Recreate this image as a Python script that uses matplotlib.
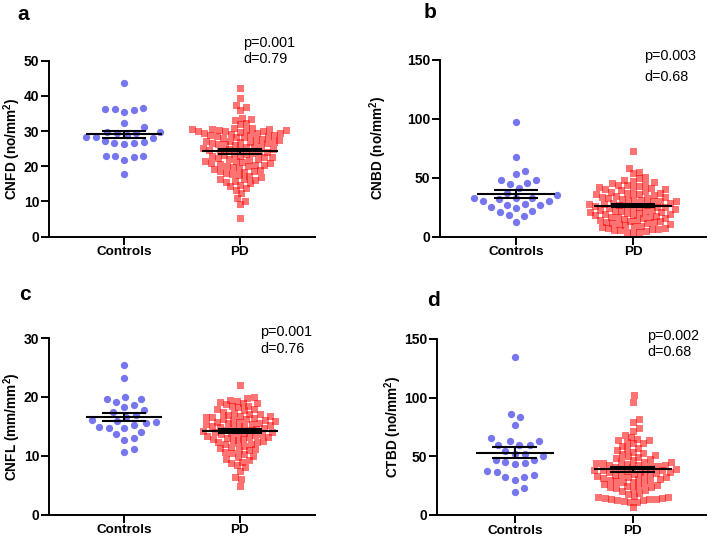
import numpy as np
import matplotlib
matplotlib.use('Agg')
import matplotlib.pyplot as plt

plt.rcParams['font.family'] = ['Liberation Sans', 'DejaVu Sans']
plt.rcParams['mathtext.fontset'] = 'custom'
plt.rcParams['mathtext.bf'] = 'Liberation Sans:bold'
plt.rcParams['mathtext.rm'] = 'Liberation Sans:bold'

W, H = 708, 539

groups = ['Controls', 'PD']

# values
cnfd_ctrl = [43.8, 36.5, 35.5, 36.2, 36.4, 35.9, 32.4, 31.3, 29.6, 29.8, 29.5, 29.7, 28.2,
             28.2, 28.0, 28.9, 26.6, 27.1, 26.2, 27.0, 26.5, 23.0, 22.5, 23.0, 21.8, 23.0, 17.7]
cnfd_pd = [42.3, 39.5, 37.5, 36.8, 36.0, 33.8, 33.5, 33.2, 32.3, 32.0,
           30.8, 30.6, 30.5, 30.4, 30.2, 30.1, 30.0, 30.9, 30.3, 30.7,
           29.8, 29.5, 29.2, 29.9, 29.0, 29.4, 29.6,
           28.2, 28.5, 28.8, 28.0, 28.6, 28.3, 28.9,
           27.1, 27.5, 27.8, 27.3, 27.6, 27.0,
           26.2, 26.5, 26.8, 26.0, 26.4, 26.7, 26.9,
           25.2, 25.5, 25.8, 25.0, 25.6,
           24.1, 24.4, 24.8, 24.6, 24.2, 24.9,
           23.2, 23.5, 23.8, 23.0, 23.6,
           22.1, 22.4, 22.7, 22.0, 22.5, 22.9,
           21.2, 21.5, 21.8, 21.0, 21.6,
           20.1, 20.4, 20.7, 20.0, 20.5, 20.9,
           19.2, 19.5, 19.8, 19.0,
           18.1, 18.4, 18.8, 18.6,
           17.2, 17.5, 17.8,
           16.1, 16.5, 16.9, 16.3,
           15.2, 15.6, 15.9,
           14.3, 14.8, 13.2, 13.7, 12.4, 11.0, 10.2, 9.3, 5.3]

cnbd_ctrl = [97.6, 67.4, 56, 53, 48, 48, 46, 45, 41, 37, 35, 33, 33, 33, 32, 30, 30, 28,
             27, 27, 25, 24, 22, 21, 18, 17.5, 12.5]
cnbd_pd = [72.7, 58.0, 55.2, 53.8,
           51.0, 49.5, 48.2, 47.0, 46.3, 45.5, 45.0,
           44.2, 43.5, 42.8, 42.0, 41.5, 41.0, 40.5, 40.2,
           39.5, 38.8, 38.0, 37.5, 37.0, 36.5, 36.0, 35.5, 35.2,
           34.6, 34.0, 33.5, 33.0, 32.5, 32.0, 31.5, 31.0, 30.5, 30.2, 30.0,
           29.5, 29.0, 28.5, 28.0, 27.6, 27.2, 26.8, 26.4, 26.0, 25.6, 25.2, 25.0,
           24.6, 24.0, 23.5, 23.0, 22.6, 22.2, 21.8, 21.4, 21.0, 20.6, 20.2, 20.0,
           19.5, 19.0, 18.4, 18.0, 17.5, 17.0, 16.8, 16.5, 16.0, 15.6, 15.2,
           14.6, 14.0, 13.4, 13.0, 12.8, 12.2, 11.6, 11.3, 11.0, 10.4,
           9.6, 9.3, 9.0, 8.4, 7.8, 7.2, 6.6, 6.3, 6.0, 5.5,
           4.8, 4.2, 4.0, 3.5]

cnfl_ctrl = [25.4, 23.2, 19.7, 19.7, 20.0, 19.2, 18.6, 18.3, 17.8, 17.4, 16.6, 16.9, 15.9,
             16.1, 15.5, 15.7, 15.2, 14.7, 14.7, 14.9, 14.1, 13.6, 13.0, 12.7, 11.2, 10.7]
cnfl_pd = [22.0, 20.0,
           19.8, 19.5, 19.3, 19.1, 19.0,
           18.9, 18.7, 18.5, 18.4, 18.2, 18.0,
           17.9, 17.7, 17.5, 17.3, 17.1, 17.0,
           16.9, 16.8, 16.7, 16.5, 16.4, 16.3, 16.2, 16.0, 16.6, 16.1,
           15.9, 15.8, 15.7, 15.6, 15.5, 15.4, 15.3, 15.2, 15.1, 15.0,
           14.9, 14.8, 14.7, 14.6, 14.5, 14.4, 14.3, 14.2, 14.1, 14.0,
           13.9, 13.8, 13.7, 13.6, 13.5, 13.4, 13.3, 13.2, 13.1, 13.0,
           12.9, 12.8, 12.7, 12.5, 12.4, 12.3, 12.1, 12.0,
           11.9, 11.7, 11.5, 11.3, 11.1, 11.0,
           10.9, 10.6, 10.4, 10.2, 10.0,
           9.8, 9.5, 9.2, 9.0,
           8.8, 8.4, 8.0, 7.4, 6.3, 6.0, 4.9]

ctbd_ctrl = [135, 86, 83.3, 76.3, 65.6, 62.8, 62.8, 60, 60, 59.4, 54.3, 52.4, 52.4, 50,
             47.3, 47, 45, 44, 43.6, 37.4, 36.6, 34, 32.4, 32.4, 30, 23.4, 19.7]
ctbd_pd = [102, 96.5, 82.0, 79.5, 74.0, 72.0,
           68.0, 66.5, 65.0, 64.0, 63.5, 62.5, 61.5, 61.0,
           59.0, 57.5, 56.0, 55.0, 54.0, 53.0, 52.0, 51.0, 50.5,
           49.5, 48.5, 47.5, 46.5, 46.0, 45.5,
           44.5, 44.0, 43.5, 43.0, 42.5, 42.0, 41.5, 41.0, 40.5, 40.0, 44.8, 42.8,
           39.5, 39.0, 38.5, 38.0, 37.5, 37.0, 36.5, 36.0, 35.5, 35.0, 38.2, 36.8,
           34.5, 34.0, 33.5, 33.0, 32.5, 32.0, 31.5, 31.0, 30.5, 30.0,
           29.5, 29.0, 28.0, 27.0, 26.0, 25.5, 25.0, 28.5,
           24.5, 24.0, 23.0, 22.0, 21.0, 20.5, 23.5,
           19.0, 17.5, 16.0, 15.5,
           15.0, 14.5, 14.0, 13.5, 13.0, 12.5, 12.0, 11.5, 11.0, 14.8, 13.8,
           6.5]

ylabels = [r'CNFD (no/mm$\mathbf{^2}$)', r'CNBD (no/mm$\mathbf{^2}$)',
           r'CNFL (mm/mm$\mathbf{^2}$)', r'CTBD (no/mm$\mathbf{^2}$)']
letters = ['a', 'b', 'c', 'd']
ymaxes = [50, 150, 30, 150]
ysteps = [10, 50, 10, 50]
pvals = ['p=0.001', 'p=0.003', 'p=0.001', 'p=0.002']
dvals = ['d=0.79', 'd=0.68', 'd=0.76', 'd=0.68']
ctrl_data = [cnfd_ctrl, cnbd_ctrl, cnfl_ctrl, ctbd_ctrl]
pd_data = [cnfd_pd, cnbd_pd, cnfl_pd, ctbd_pd]

# axes boxes in pixels: left, top, right, bottom
boxes = [(49, 60.7, 315, 236.7), (440, 60, 706, 236.7),
         (49, 338, 315, 514.5), (437, 339, 706, 515)]
xlims = [(-0.65, 1.65), (-0.65, 1.624), (-0.65, 1.65), (-0.66, 1.62)]
ylab_x = [23, 389, 23, 404]   # right edge of the rotated y label
letter_pos = [(23, 15), (430, 13), (25, 295), (433, 301)]
ptext_pos = [(243, 43, 59), (644, 56, 77), (260, 332, 349), (647, 336, 352)]


def swarm(vals, dx, dy, ppu_y):
    vals = np.asarray(vals, dtype=float)
    xs = np.zeros(len(vals))
    placed = []
    for i in np.argsort(vals):
        y = vals[i] * ppu_y
        near = [(px, py) for px, py in placed if abs(py - y) < dy]

        def need(py):
            return dx * np.sqrt(max(0.0, 1 - ((py - y) / dy) ** 2))

        cands = [0.0]
        for px, py in near:
            cands += [px + need(py), px - need(py)]
        cands.sort(key=lambda c: (round(abs(c), 6), -c))
        for c in cands:
            if all(abs(c - px) >= need(py) - 1e-6 for px, py in near):
                break
        xs[i] = c
        placed.append((c, y))
    return xs


fig = plt.figure(figsize=(W / 100, H / 100), dpi=100)

for k in range(4):
    l, t, r, b = boxes[k]
    ax = fig.add_axes([l / W, 1 - b / H, (r - l) / W, (b - t) / H])
    x0, x1 = xlims[k]
    ymax = ymaxes[k]
    ax.set_xlim(x0, x1)
    ax.set_ylim(0, ymax)
    ppu_x = (r - l) / (x1 - x0)
    ppu_y = (b - t) / ymax

    for j, (vals, marker, col, alpha, ms, dx, dy) in enumerate([
            (ctrl_data[k], 'o', '#7676ee', 1.0, 7.3, 9.8, 9.8),
            (pd_data[k], 's', '#ff0000', 0.55, 7.0, 6.4, 6.6)]):
        offs = swarm(vals, dx, dy, ppu_y)
        ax.scatter(j + offs / ppu_x, vals, s=(ms * 0.72) ** 2, marker=marker,
                   color=col, alpha=alpha, linewidths=0, clip_on=False, zorder=2)
        m = np.mean(vals)
        se = np.std(vals, ddof=1) / np.sqrt(len(vals))
        ax.hlines(m, j - 0.33, j + 0.33, color='black', lw=1.5, zorder=3)
        ax.hlines([m - se, m + se], j - 0.19, j + 0.19, color='black', lw=1.5, zorder=3)
        ax.vlines(j, m - se, m + se, color='black', lw=1.5, zorder=3)

    ax.set_xticks([0, 1])
    ax.set_xticklabels(groups, fontweight='bold', fontsize=9.7)
    ax.set_yticks(np.arange(0, ymax + 1, ysteps[k]))
    for lab in ax.get_yticklabels():
        lab.set_fontweight('bold')
        lab.set_fontsize(10)
    for s in ['top', 'right']:
        ax.spines[s].set_visible(False)
    for s in ['left', 'bottom']:
        ax.spines[s].set_linewidth(1.4)
    ax.tick_params(width=1.4, length=5.5, pad=1.5)
    ax.set_ylabel(ylabels[k], fontweight='bold', fontsize=9.8)
    ax.yaxis.set_label_coords((ylab_x[k] - l) / (r - l), 0.5)

    lx, ly = letter_pos[k]
    fig.text(lx / W, 1 - ly / H, letters[k], fontsize=15, fontweight='bold',
             ha='center', va='center')
    px, py1, py2 = ptext_pos[k]
    fig.text(px / W, 1 - py1 / H, pvals[k], fontsize=10.4, ha='left', va='center')
    fig.text(px / W, 1 - py2 / H, dvals[k], fontsize=10.4, ha='left', va='center')

fig.savefig('out.png', dpi=100)
